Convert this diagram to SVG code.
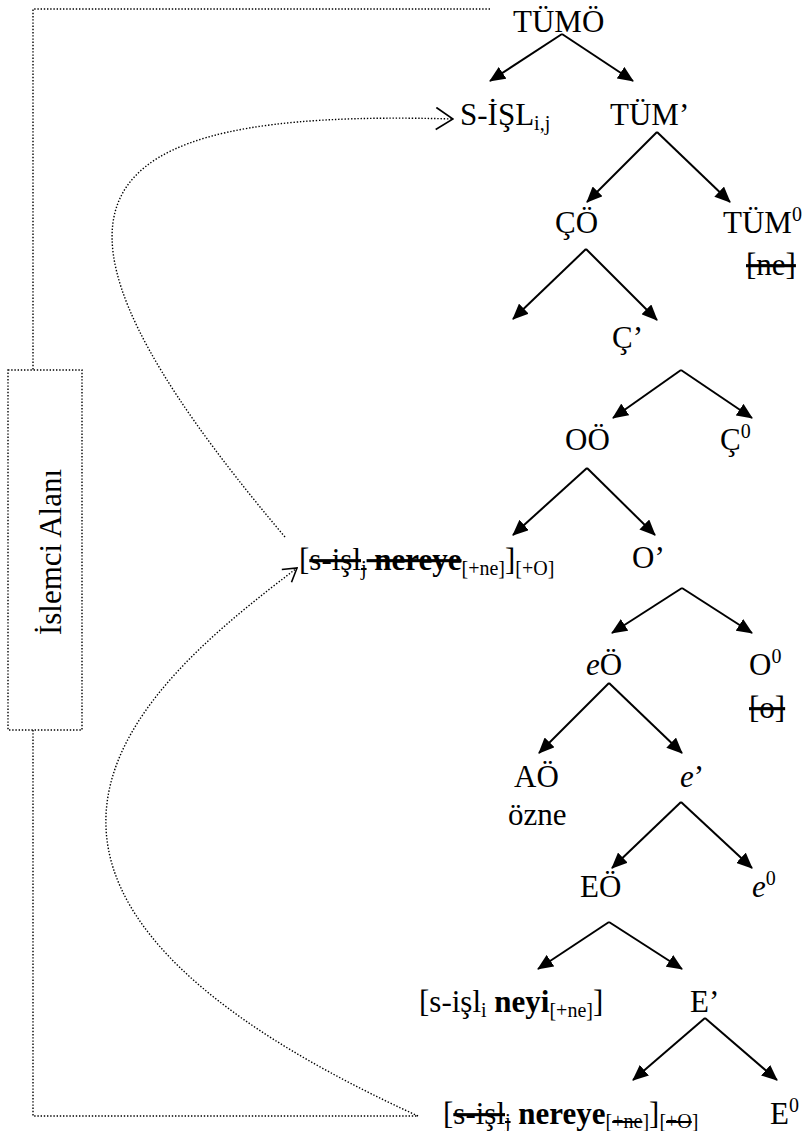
<svg xmlns="http://www.w3.org/2000/svg" width="802" height="1131" viewBox="0 0 802 1131">
  <defs>
    <marker id="tri" markerUnits="userSpaceOnUse" markerWidth="16" markerHeight="14" viewBox="0 0 16 14" refX="15" refY="7" orient="auto">
      <path d="M0,0 L16,7 L0,14 Z" fill="#000"/>
    </marker>
    <marker id="open-lg" markerUnits="userSpaceOnUse" markerWidth="19" markerHeight="24" viewBox="0 0 19 24" refX="18" refY="12" orient="auto">
      <path d="M1,1 L18,12 L1,23" fill="none" stroke="#000" stroke-width="1.6"/>
    </marker>
    <marker id="open" markerUnits="userSpaceOnUse" markerWidth="15" markerHeight="18" viewBox="0 0 15 18" refX="14" refY="9" orient="auto">
      <path d="M1,1 L14,9 L1,17" fill="none" stroke="#000" stroke-width="1.6"/>
    </marker>
    <style>
      .t { font-family: 'Liberation Serif', 'DejaVu Serif', serif; font-size: 31px; fill: #000; }
      .sm { font-size: 20px; }
      .b { font-weight: bold; }
      .it { font-style: italic; }
      .st { text-decoration: line-through; }
      .edge { stroke: #000; stroke-width: 2; fill: none; marker-end: url(#tri); }
      .dots { stroke: #000; stroke-width: 1.4; fill: none; stroke-dasharray: 1.4 1.8; }
    </style>
  </defs>

  <!-- connectors: tree branches, movement paths and the dotted frame -->
  <g id="connectors">
    <path class="edge" d="M562,34 L490,81"/>
    <path class="edge" d="M562,34 L633,81"/>
    <path class="edge" d="M657,132 L587,202"/>
    <path class="edge" d="M657,132 L730,202"/>
    <path class="edge" d="M586,249 L513,319"/>
    <path class="edge" d="M586,249 L657,320"/>
    <path class="edge" d="M681,370 L613,418"/>
    <path class="edge" d="M681,370 L752,418"/>
    <path class="edge" d="M587,468 L513,535"/>
    <path class="edge" d="M587,468 L655,535"/>
    <path class="edge" d="M682,588 L612,633"/>
    <path class="edge" d="M682,588 L752,633"/>
    <path class="edge" d="M609,683 L539,753"/>
    <path class="edge" d="M609,683 L682,753"/>
    <path class="edge" d="M681,802 L612,868"/>
    <path class="edge" d="M681,802 L752,868"/>
    <path class="edge" d="M609,922 L538,969"/>
    <path class="edge" d="M609,922 L682,969"/>
    <path class="edge" d="M705,1018 L633,1080"/>
    <path class="edge" d="M705,1018 L777,1080"/>

    <path class="dots" marker-end="url(#open-lg)" d="M285,537 C0,200 75,108 453,119"/>
    <path class="dots" marker-end="url(#open)" d="M418,1116 C-100,880 150,680 297,568"/>

    <path class="dots" d="M490,9 H33 V370"/>
    <path class="dots" d="M33,730 V1116 H418"/>
  </g>

  <g id="operator-domain">
    <rect class="dots" x="8" y="370" width="74" height="360"/>
    <text class="t" transform="translate(61,552) rotate(-90)" text-anchor="middle">İslemci Alanı</text>
  </g>

  <g id="n-tumo"><text class="t" x="513" y="32">TÜMÖ</text></g>
  <g id="n-s-isl"><text class="t" x="460" y="125">S-İŞL<tspan class="sm" dy="5">i,j</tspan></text></g>
  <g id="n-tum-bar"><text class="t" x="610" y="125">TÜM’</text></g>
  <g id="n-co"><text class="t" x="555" y="233">ÇÖ</text></g>
  <g id="n-tum0">
    <text class="t" x="723" y="233">TÜM<tspan class="sm" dy="-12">0</tspan></text>
    <text class="t" x="746" y="275"><tspan class="st">[ne]</tspan></text>
  </g>
  <g id="n-c-bar"><text class="t" x="612" y="348">Ç’</text></g>
  <g id="n-oo"><text class="t" x="565" y="450">OÖ</text></g>
  <g id="n-c0"><text class="t" x="720" y="450">Ç<tspan class="sm" dy="-12">0</tspan></text></g>
  <g id="n-moved">
    <text class="t" x="299" y="570">[<tspan class="st">s-işl</tspan><tspan class="sm st" dy="5">j</tspan><tspan class="b st" dy="-5"> nereye</tspan><tspan class="sm" dy="5">[+ne]</tspan><tspan dy="-5">]</tspan><tspan class="sm" dy="5">[+O]</tspan></text>
  </g>
  <g id="n-o-bar"><text class="t" x="632" y="568">O’</text></g>
  <g id="n-eo"><text class="t" x="586" y="675"><tspan class="it">e</tspan>Ö</text></g>
  <g id="n-o0">
    <text class="t" x="749" y="675">O<tspan class="sm" dy="-12">0</tspan></text>
    <text class="t" x="749" y="718"><tspan class="st">[o]</tspan></text>
  </g>
  <g id="n-ao">
    <text class="t" x="514" y="787">AÖ</text>
    <text class="t" x="508" y="825">özne</text>
  </g>
  <g id="n-e-bar"><text class="t" x="680" y="787"><tspan class="it">e</tspan>’</text></g>
  <g id="n-eo2"><text class="t" x="580" y="897">EÖ</text></g>
  <g id="n-e0"><text class="t" x="752" y="897"><tspan class="it">e</tspan><tspan class="sm" dy="-12">0</tspan></text></g>
  <g id="n-neyi">
    <text class="t" x="419" y="1012">[s-işl<tspan class="sm" dy="5">i</tspan><tspan class="b" dy="-5"> neyi</tspan><tspan class="sm" dy="5">[+ne]</tspan><tspan dy="-5">]</tspan></text>
  </g>
  <g id="n-e-bar2"><text class="t" x="690" y="1012">E’</text></g>
  <g id="n-base">
    <text class="t" x="443" y="1124">[<tspan class="st">s-işl</tspan><tspan class="sm st" dy="4">j</tspan><tspan class="b" dy="-4"> nereye</tspan><tspan class="sm" dy="4">[<tspan class="st">+ne</tspan>]</tspan><tspan dy="-4">]</tspan><tspan class="sm" dy="4">[<tspan class="st">+O</tspan>]</tspan></text>
  </g>
  <g id="n-e0-2"><text class="t" x="770" y="1124">E<tspan class="sm" dy="-12">0</tspan></text></g>
</svg>
